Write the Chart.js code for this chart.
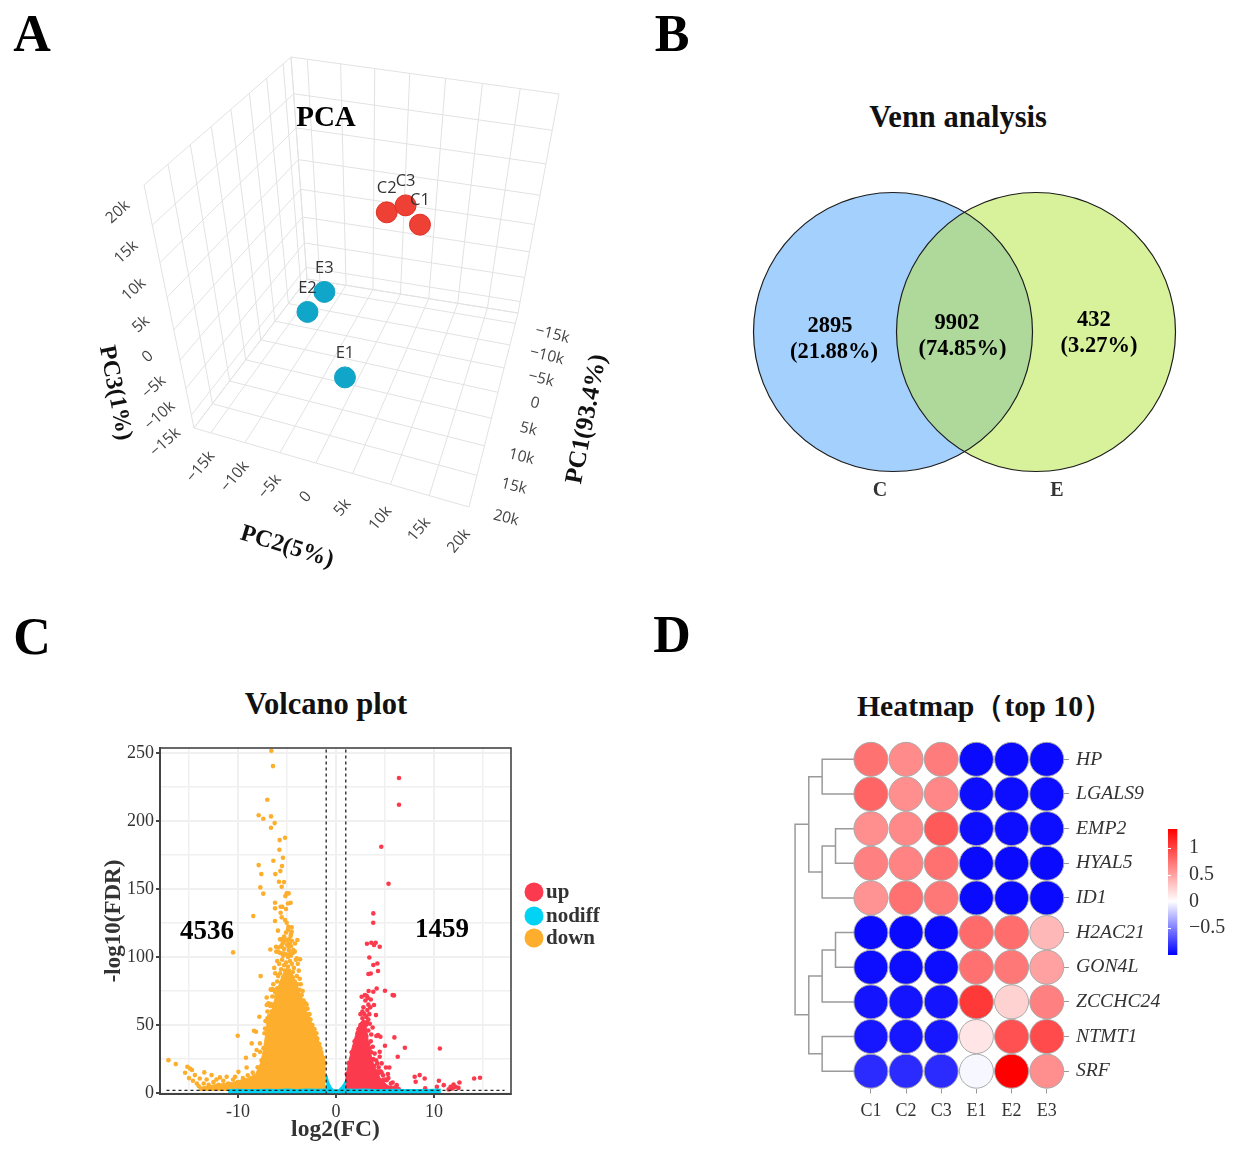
<!DOCTYPE html>
<html><head><meta charset="utf-8">
<script src="https://cdn.jsdelivr.net/npm/chart.js@4"></script>
<style>
html,body{margin:0;padding:0;background:#fff}
#page{position:relative;width:1237px;height:1152px;overflow:hidden;background:#fff;font-family:"Liberation Serif",serif;color:#000}
canvas{position:absolute;display:block}
.t{position:absolute;transform:translate(-50%,-50%);white-space:nowrap;font-weight:bold}
.letter{font-size:52px}
.title{font-size:30.5px;color:#111}
</style></head><body><div id="page">
<div class="t letter" style="left:32px;top:33px">A</div>
<div class="t letter" style="left:672px;top:33px">B</div>
<div class="t letter" style="left:32px;top:636px">C</div>
<div class="t letter" style="left:672px;top:634px">D</div>
<div class="t title" style="left:958px;top:117px">Venn analysis</div>
<div class="t title" style="left:326px;top:704px">Volcano plot</div>
<div class="t title" style="left:985px;top:706px;font-size:29.8px">Heatmap（top 10）</div>
<canvas id="pca" width="624" height="574" style="left:28px;top:28px"></canvas>
<canvas id="venn" width="500" height="340" style="left:735px;top:170px"></canvas>
<canvas id="volcano" width="520" height="420" style="left:100px;top:730px"></canvas>
<canvas id="heat" width="450" height="410" style="left:770px;top:720px"></canvas>
<canvas id="cbar" width="70" height="160" style="left:1167px;top:810px"></canvas>
</div>
<script>
// ---------- Panel A data (values in thousands) ----------
const pcaNames=['C1','C2','C3','E1','E2','E3'];
const pc1Values=[-14,-14,-14,14,14,14];
const pc2Values=[3.82,-1.48,1.47,3.15,-0.82,2.14];
const pc3Values=[-0.74,0.48,2.17,-6.82,2.62,6.27];
const pcaTicks=[-15,-10,-5,0,5,10,15,20];
// ---------- Panel B data ----------
const vennSets=['C','E'];
const vennCounts=['2895','9902','432'];
const vennShares=['(21.88%)','(74.85%)','(3.27%)'];
// ---------- Panel C data ----------
const xTickValues=[-15,-10,-5,0,5,10,15];
const yTickValues=[0,25,50,75,100,125,150,175,200,225,250];
const downCount='4536', upCount='1459';
const downEnvelope=[[-1.05,22],[-1.5,33],[-2,43],[-2.5,52],[-3,60],[-3.5,70],[-4,80],[-4.5,88],[-5,92],[-5.5,86],[-6,76],[-6.5,62],[-7,50],[-7.2,42],[-7.4,32],[-7.7,22],[-8.2,14],[-9,11],[-10.5,8],[-12.5,6],[-14,4]];
const upEnvelope=[[0.96,9],[1.27,22],[1.6,32],[1.94,41],[2.2,47],[2.5,52],[2.8,54],[3.1,48],[3.3,38],[3.5,30],[3.8,22],[4.2,15],[4.6,10],[5.2,6],[5.9,3]];
const nodiffEnvelope=[[-1.0,13],[-0.85,8.5],[-0.6,4.5],[-0.3,1.8],[0,0.5],[0.3,1.8],[0.6,4],[0.85,6.5],[1.0,8.5]];
const nodiffStrip=[[-11,1.3],[-10,1.5],[-9,1.3],[-8,1.4],[-7,1.5],[-6,1.3],[-5,1.6],[-4,1.3],[-3,1.6],[-2,1.5],[-1,1.7],[-0.6,1.2],[0.6,1.2],[1,1.6],[2,1.5],[3,1.6],[4,1.4],[5,1.3],[6,1.5],[7,1.3],[8,1.4],[9,1.3],[10,1.5],[10.7,1.6]];
const downPoints=[[-6.6,251.7],[-6.43,240.4],[-7.01,215.7],[-7.89,204.2],[-7.42,201.7],[-6.63,203.4],[-6.26,198.5],[-6.63,195.1],[-5.2,187.7],[-5.75,186],[-5.78,178.9],[-5.41,173],[-6.39,170.8],[-5.51,166.9],[-7.89,167.6],[-5.68,163.2],[-7.62,161],[-6.19,161],[-5.82,155.4],[-5.31,155.1],[-7.72,151.2],[-5.54,151.7],[-7.42,146.6],[-5.03,146.8],[-4.83,146.8],[-5.17,144.8],[-6.22,139.9],[-4.63,139.9],[-4.9,139.4],[-5.65,137],[-5.48,137],[-6.22,135.8],[-5.1,135.3],[-5.65,132.6],[-8.44,130.1],[-5.54,129.2],[-6.22,126.5],[-5.2,127.2],[-5.03,125.2],[-5.92,119.4],[-4.86,122.3],[-4.52,121.8],[-4.52,118.6],[-4.63,115.4],[-3.94,112.5],[-4.18,110],[-5.71,113],[-5.2,113],[-5.44,110],[-6.7,105.6],[-6.12,107.6],[-5.54,107.6],[-4.86,107.6],[-4.35,105.1],[-10.5,103.4],[-5.88,103.9],[-5.37,102.7],[-4.69,102.2],[-4.01,99],[-3.67,98.3],
[-5.3,115],[-5.1,118],[-4.8,113],[-4.5,112],[-5.6,113],[-4.9,120],[-4.6,117],[-5.4,111],[-5.0,112],[-4.7,110],
[-5.9,107],[-5.6,108],[-5.3,106],[-5.0,109],[-4.8,105],[-4.6,108],[-4.4,103],[-5.7,103],[-5.4,101],[-5.1,102],[-4.9,100],[-4.6,101],[-4.2,104],[-6.1,104],
[-6.0,97],[-5.8,95],[-5.5,98],[-5.3,94],[-5.1,96],[-4.9,93],[-4.7,97],[-4.5,95],[-4.3,92],[-4.1,98],[-3.9,95],[-5.6,91],[-5.2,90],[-4.8,90],[-4.4,89],[-3.8,90],[-6.3,92],
[-6.2,88],[-5.9,86],[-5.7,88],[-5.4,85],[-5.2,87],[-5.0,84],[-4.8,86],[-4.6,83],[-4.4,85],[-4.2,82],[-4.0,86],[-3.7,84],[-3.6,80],[-6.0,82],[-5.6,81],[-5.3,80],[-4.9,81],[-4.5,80],[-4.1,78],[-3.9,80],[-6.4,80],
[-6.6,76],[-6.4,76],[-6.2,74],[-6.0,77],[-5.8,75],[-5.5,78],[-5.2,76],[-4.6,77],[-4.2,75],[-3.9,74],[-3.7,76],[-3.5,72],[-3.4,75],[-6.5,71],[-6.1,71],[-3.8,70],[-3.6,69],[-3.3,68],[-3.1,66],[-4.0,72],
[-6.9,66],[-6.7,64],[-6.4,65],[-6.3,62],[-6.6,60],[-3.5,64],[-3.2,62],[-3.0,65],[-2.9,62],[-2.7,58],[-3.4,60],[-3.0,58],[-7.0,60],[-6.8,57],[-6.5,55],
[-7.0,55],[-7.2,53],[-6.9,50],[-7.1,47],[-7.3,44],[-6.95,52],[-2.8,55],[-2.6,54],[-2.4,50],[-2.2,47],[-2.5,48],[-2.0,44],[-1.9,40],[-1.7,36],[-1.5,30],[-1.3,26],[-1.1,22],[-2.3,42],[-1.6,33],
[-17.1,24.2],[-16.35,21.3],[-15.17,19.3],[-14.9,18.1],[-15.4,14.9],[-14.7,16.9],[-14.4,13.2],[-13.44,15.2],[-13.9,10.7],[-12.7,13.2],[-11.84,11.5],[-11.16,11.9],[-10.3,11.9],[-9.96,15.6],[-9.12,18.8],[-9.19,25.9],[-8.34,27.9],[-8.1,31.6],[-8.6,36.5],[-8.37,45.8],[-8.16,45.1],[-10.03,42.1],[-7.69,86],[-7.07,70.3],[-6.66,76.2],[-6.46,76.2],[-7.07,64.7],[-6.66,65.4],[-6.39,64.7],[-7.82,56.1],[-7.24,47.5],[-6.9,46.3],[-7.76,36.5],[-7.76,30.3],
[-15,11],[-14.6,9],[-14.2,7],[-14,5],[-13.5,7],[-13,6],[-12.5,8],[-12,6],[-11.5,9],[-11,7],[-10.5,10],[-10,8],[-9.5,11],[-9,13],[-8.5,15],[-8,19],[-7.6,24],[-7.4,33],[-7,40],[-13.2,10],[-12.2,10],[-11.2,5],[-10.6,4]];
const upPoints=[[6.43,231.6],[6.43,212],[4.62,181.1],[5.36,153.9],[3.81,132.1],[3.8,125.2],[3.16,109.8],[3.61,110.5],[4.05,110.5],[3.88,108.8],[4.46,107.6],[3.4,99.7],[3.81,94.1],[4.22,95.3],[4.29,89.7],[3.31,87.5],[3.55,87.9],[4.15,76.9],[3.81,74.5],[3.33,75],[5.0,75.2],[5.78,72],[5.92,71.8],[2.62,70.8],[3.13,71.5],[3.55,68.8],[3.88,64.7],[4.08,57.3],[3.74,48.2],[4.12,41.9],[4.29,42.6],[4.53,41.4],[5.96,40.9],[5.0,34.8],[7.03,33.3],[10.6,32.8],[4.46,30.3],[4.46,26.7],[6.3,26.7],[4.22,21.8],[4.66,21.8],[5.1,18.8],[5.44,18.8],[4.3,14.4],[4.66,15],[4.8,9.5],[5.17,9.5],[5.78,7.8],[6.2,5.8],[8.03,12],[8.54,13.2],[9.05,10.7],[8.13,8.3],[10.5,9],[14.1,10.7],[14.7,11.2],[12.6,7.8],[12.0,6.3],[11.7,4.6],[12.2,4.6],[11,5.8],[10.3,4.6],[9.1,3.4],[11.5,2.7],[11.9,3.4],[12.5,3.8],
[3.0,68],[3.3,65],[2.8,63],[3.2,61],[3.5,63],[2.9,58],[3.1,56],[2.7,55],[3.3,54],[2.85,52],[3.05,50],[2.5,50],[2.3,47],[2.2,44],[2.6,46],[3.3,46],[3.6,43],[3.1,42],[3.3,36],[3.6,30],[3.3,28],[3.8,25],[3.9,20],[4.2,16],[4.8,13],[5.0,10],[5.6,7],[6,4],[6.4,3],[5.3,14],[4.6,8],[1.9,38],[1.6,30],[1.3,22],[1.1,14],
[2.5,58],[2.7,60],[3.4,58],[3.15,52],[3.45,51],[3.55,38],[3.75,34],[3.45,33],[3.95,29],[4.1,24],[4.35,19],[3.6,23],[4.55,16],[5.35,11],[4.05,12],[5.6,4],[3.25,70],[2.95,72]];
// ---------- Panel D data ----------
const heatCols=['C1','C2','C3','E1','E2','E3'];
const heatRows=['HP','LGALS9','EMP2','HYAL5','ID1','H2AC21','GON4L','ZCCHC24','NTMT1','SRF'];
const heatValues=[
[0.75,0.62,0.70,-0.97,-0.97,-0.97],
[0.82,0.60,0.64,-0.96,-0.96,-0.96],
[0.60,0.63,0.88,-0.96,-0.96,-0.96],
[0.68,0.66,0.76,-0.97,-0.97,-0.97],
[0.58,0.76,0.72,-0.97,-0.97,-0.97],
[-0.97,-0.97,-0.97,0.79,0.78,0.38],
[-0.96,-0.96,-0.96,0.76,0.72,0.50],
[-0.93,-0.93,-0.93,1.06,0.24,0.68],
[-0.92,-0.92,-0.92,0.14,0.93,0.96],
[-0.84,-0.84,-0.84,-0.03,1.36,0.60]];
const colorTicks=[-0.5,0,0.5,1];
const colorRange=[-1.01,1.36];
const dendroHeights=[-1.386,-1.006,-1.386,-1.766,-1.006,-1.386,-1.386,-1.766,-2.156];
const dendroKids=[[0,1],[2,3],['n1',4],['n0','n2'],[5,6],['n4',7],[8,9],['n5','n6'],['n3','n7']];

// ---------- shared ----------
const SERIF='"Liberation Serif",serif';
const txt=(c,s,x,y,font,col,rot,al)=>{c.save();c.translate(x,y);if(rot)c.rotate(rot*Math.PI/180);c.font=font;c.fillStyle=col||'#000';c.textAlign=al||'center';c.textBaseline='middle';c.fillText(s,0,0);c.restore();};
const base={responsive:false,animation:false,events:[],plugins:{legend:{display:false},tooltip:{enabled:false},title:{display:false}}};

// ---------- A: PCA ----------
const O=[194,428],X=[469,507],Y=[307,279],Z=[144,185],XY=[518,313],YZ=[291,57],XZ=[414,240],XYZ=[559,94];
const warp=(v,k)=>v/(k-(k-1)*v);
const lo=-17.5,hi=20,span=hi-lo;
function proj(pc1,pc2,pc3){
  const s=warp((pc2-lo)/span,1.1),t=warp((hi-pc1)/span,0.79),u=warp((pc3-lo)/span,1.29);
  const out=[];
  for(let i=0;i<2;i++){
    const a=O[i]+(Y[i]-O[i])*t,b=X[i]+(XY[i]-X[i])*t,c=Z[i]+(YZ[i]-Z[i])*t,d=XZ[i]+(XYZ[i]-XZ[i])*t;
    const bot=a+(b-a)*s,top=c+(d-c)*s;
    out.push(bot+(top-bot)*u);
  }
  return {x:out[0],y:out[1]};
}
const gridLines=[];
const gridStops=[lo,...pcaTicks];
const gl=(p,q)=>gridLines.push({type:'line',data:[p,q],borderColor:'#e2e2e2',borderWidth:1,pointRadius:0,tension:0,order:5});
gridStops.forEach(v=>{
  gl(proj(hi,lo,v),proj(lo,lo,v));
  gl(proj(v,lo,lo),proj(v,lo,hi));
  gl(proj(lo,lo,v),proj(lo,hi,v));
  gl(proj(lo,v,lo),proj(lo,v,hi));
  gl(proj(hi,v,lo),proj(lo,v,lo));
  gl(proj(v,lo,lo),proj(v,hi,lo));
});
const pcaPts=pcaNames.map((n,i)=>proj(pc1Values[i],pc2Values[i],pc3Values[i]));
const fmtK=v=>v===0?'0':(v<0?'−':'')+Math.abs(v)+'k';
new Chart(document.getElementById('pca'),{type:'scatter',
 data:{datasets:[...gridLines,
  {data:pcaPts.slice(3),backgroundColor:'#0fa6c9',borderColor:'#14a0c2',borderWidth:1,pointRadius:10.5,order:1},
  {data:pcaPts.slice(0,3),backgroundColor:'#ee4035',borderColor:'#dd2f22',borderWidth:1,pointRadius:10.5,order:1}]},
 options:{...base,layout:{padding:12},scales:{x:{display:false,type:'linear',min:40,max:640},y:{display:false,type:'linear',reverse:true,min:40,max:590}}},
 plugins:[{id:'pcaText',afterDraw(ch){
  const c=ch.ctx,sx=ch.scales.x,sy=ch.scales.y;
  const px=p=>[sx.getPixelForValue(p.x),sy.getPixelForValue(p.y)];
  const f='15.5px "Open Sans",sans-serif';
  pcaTicks.forEach(v=>{
   let q=px(proj(hi,v,lo));txt(c,fmtK(v),q[0]-10,q[1]+34,f,'#444',-50);
   q=px(proj(hi,lo,v));txt(c,fmtK(v),q[0]-26,q[1]+27,f,'#444',-42);
   q=px(proj(v,hi,lo));txt(c,fmtK(v),q[0]+37,q[1]+11,f,'#444',14);
  });
  pcaNames.forEach((n,i)=>{const q=px(pcaPts[i]);txt(c,n,q[0],q[1]-24,'16.5px "Open Sans",sans-serif','#333');});
  const b='bold 24px '+SERIF;
  let q=px({x:287,y:547});txt(c,'PC2(5%)',q[0],q[1],b,'#111',17);
  q=px({x:587,y:419});txt(c,'PC1(93.4%)',q[0],q[1],'bold 25px '+SERIF,'#111',-79);
  q=px({x:115,y:393});txt(c,'PC3(1%)',q[0],q[1],b,'#111',79);
  q=px({x:326,y:119});txt(c,'PCA',q[0],q[1],'bold 29px '+SERIF,'#000');
 }}]});

// ---------- B: Venn ----------
const vennColors=['#a4d0fd','#d8f29b'],vennOverlap='#aed99b';
const vennR=139.5;
new Chart(document.getElementById('venn'),{type:'scatter',
 data:{datasets:vennSets.map((n,i)=>({data:[{x:i,y:0}],backgroundColor:vennColors[i],borderWidth:0,pointRadius:vennR,clip:false}))},
 options:{...base,layout:{padding:{left:140,right:140,top:140,bottom:156}},scales:{x:{display:false,type:'linear',min:-0.1259,max:1.4126},y:{display:false,type:'linear',min:-1,max:1}}},
 plugins:[{id:'vennOver',afterDraw(ch){
  const c=ch.ctx,R=vennR;
  const a=ch.getDatasetMeta(0).data[0],b=ch.getDatasetMeta(1).data[0];
  c.save();c.beginPath();c.arc(a.x,a.y,R,0,7);c.clip();c.beginPath();c.arc(b.x,b.y,R,0,7);c.fillStyle=vennOverlap;c.fill();c.restore();
  c.strokeStyle='#1c1c1c';c.lineWidth=1.2;
  [a,b].forEach(p=>{c.beginPath();c.arc(p.x,p.y,R,0,7);c.stroke();});
  const f='bold 22.5px '+SERIF;
  const nx=[a.x-63,a.x+64,b.x+58],sxs=[a.x-59,a.x+69.5,b.x+63],cy=[a.y-6,a.y-9,a.y-12];
  vennCounts.forEach((s,i)=>{txt(c,s,nx[i],cy[i],f,'#000');txt(c,vennShares[i],sxs[i],cy[i]+26,f,'#000');});
  const g='bold 20px '+SERIF;
  txt(c,vennSets[0],a.x-13,a.y+159,g,'#333');txt(c,vennSets[1],b.x+21,a.y+159,g,'#333');
 }}]});

// ---------- C: Volcano ----------
const cUp='#fc3a4e',cDown='#fdae2d',cNo='#00d3f3';
const xy=a=>a.map(p=>({x:p[0],y:p[1]}));
const dash=(p,q)=>({type:'line',data:p.concat(q),borderColor:'#222',borderWidth:1.3,borderDash:[3,3],pointRadius:0,order:0});
const mass=(arr,col,o)=>({type:'line',data:xy(arr),borderColor:col,backgroundColor:col,borderWidth:1,pointRadius:0,tension:0,fill:{value:1.5},order:o});
new Chart(document.getElementById('volcano'),{type:'scatter',
 data:{datasets:[
  dash([{x:-1,y:-1}],[{x:-1,y:253.7}]),dash([{x:1,y:-1}],[{x:1,y:253.7}]),dash([{x:-17.3,y:2}],[{x:17.2,y:2}]),
  {data:xy(downPoints),backgroundColor:cDown,borderWidth:0,pointRadius:2.3,order:6},
  mass(downEnvelope,cDown,7),
  {data:xy(upPoints),backgroundColor:cUp,borderWidth:0,pointRadius:2.3,order:4},
  mass(upEnvelope,cUp,5),
  {type:'line',data:xy(nodiffStrip),borderColor:cNo,borderWidth:4.5,pointRadius:0,tension:0,order:2},
  {type:'line',data:xy(nodiffEnvelope),borderColor:cNo,backgroundColor:cNo,borderWidth:2.5,pointRadius:0,tension:0,fill:{value:0},order:2}
 ]},
 options:{...base,layout:{padding:{left:0,right:109,top:18,bottom:0}},
  scales:{
   x:{type:'linear',min:-17.96,max:17.86,afterBuildTicks:s=>{s.ticks=xTickValues.map(v=>({value:v}));},afterFit:s=>{s.height=56;},
      border:{display:true,color:'#444',width:2},
      grid:{color:'#f0f0f0',lineWidth:t=>t.tick&&t.tick.value%10===0?2:1.5,tickColor:t=>t.tick&&t.tick.value%10===0?'#444':'rgba(0,0,0,0)',tickLength:4},
      ticks:{autoSkip:false,maxRotation:0,padding:3,color:'#333',font:{family:SERIF,size:18},callback:v=>v%10===0?String(v):''},
      title:{display:true,text:'log2(FC)',color:'#333',font:{family:SERIF,size:23.5,weight:'bold'},padding:{top:0,bottom:6}}},
   y:{type:'linear',min:-0.7,max:253.7,afterBuildTicks:s=>{s.ticks=yTickValues.map(v=>({value:v}));},afterFit:s=>{s.width=60;},
      border:{display:true,color:'#444',width:2},
      grid:{color:'#f0f0f0',lineWidth:t=>t.tick&&t.tick.value%50===0?2:1.5,tickColor:t=>t.tick&&t.tick.value%50===0?'#444':'rgba(0,0,0,0)',tickLength:4},
      ticks:{autoSkip:false,padding:2,color:'#333',font:{family:SERIF,size:18},callback:v=>v%50===0?String(v):''},
      title:{display:true,text:'-log10(FDR)',color:'#333',font:{family:SERIF,size:23,weight:'bold'},padding:{top:0,bottom:0}}}
  }},
 plugins:[{id:'volcText',afterDraw(ch){
  const c=ch.ctx,a=ch.chartArea;
  c.strokeStyle='#444';c.lineWidth=1.6;c.strokeRect(a.left,a.top,a.right-a.left,a.bottom-a.top);
  const f='bold 27px '+SERIF;
  txt(c,downCount,a.left+47,a.top+184,f,'#000');txt(c,upCount,a.left+282,a.top+182,f,'#000');
  const lx=a.right+23,names=['up','nodiff','down'],cols=[cUp,cNo,cDown],ys=[a.top+144,a.top+168,a.top+190];
  names.forEach((n,i)=>{c.beginPath();c.arc(lx,ys[i],9.5,0,7);c.fillStyle=cols[i];c.fill();txt(c,n,lx+12,ys[i]+1,'bold 21px '+SERIF,'#333',0,'left');});
 }}]});

// ---------- D: Heatmap ----------
const heatColor=v=>{const top=colorRange[1],bot=-colorRange[0];
  if(v>=0){const f=Math.min(1,v/top);const g=Math.round(255*(1-f));return `rgb(255,${g},${g})`;}
  const f=Math.min(1,-v/bot);const g=Math.round(255*(1-f));return `rgb(${g},${g},255)`;};
const heatPts=[],heatBg=[];
heatValues.forEach((row,r)=>row.forEach((v,c)=>{heatPts.push({x:c,y:r});heatBg.push(heatColor(v));}));
const leafX=-0.484,node={};
const kidOf=k=>typeof k==='string'?node[k]:{h:leafX,y:k};
const dendroSets=dendroKids.map((k,i)=>{
  const a=kidOf(k[0]),b=kidOf(k[1]),h=dendroHeights[i];
  node['n'+i]={h,y:(a.y+b.y)/2};
  return {type:'line',data:[{x:a.h,y:a.y},{x:h,y:a.y},{x:h,y:b.y},{x:b.h,y:b.y}],borderColor:'#9a9a9a',borderWidth:1.5,pointRadius:0,tension:0,order:3,clip:false};
});
new Chart(document.getElementById('heat'),{type:'scatter',
 data:{datasets:[...dendroSets,{data:heatPts,backgroundColor:heatBg,borderColor:'#a9a9a9',borderWidth:1,pointRadius:17,order:1,clip:false}]},
 options:{...base,layout:{padding:{left:20,right:0,top:22,bottom:0}},
  scales:{
   x:{type:'linear',min:-2.3,max:5.49,afterBuildTicks:s=>{s.ticks=heatCols.map((n,i)=>({value:i}));},afterFit:s=>{s.height=41.5;},
      border:{display:false},grid:{drawOnChartArea:false,tickColor:'#999',tickLength:5},
      ticks:{autoSkip:false,maxRotation:0,padding:7,color:'#333',font:{family:SERIF,size:18},callback:v=>heatCols[v]}},
   y:{type:'linear',position:'right',reverse:true,min:-0.5,max:9.5,afterBuildTicks:s=>{s.ticks=heatRows.map((n,i)=>({value:i}));},afterFit:s=>{s.width=156;},
      border:{display:false},grid:{drawOnChartArea:false,tickColor:'#999',tickLength:5},
      ticks:{autoSkip:false,padding:7,crossAlign:'near',color:'#333',font:{family:SERIF,size:19.7,style:'italic'},callback:v=>heatRows[v]}}
  }}});

// colour bar
new Chart(document.getElementById('cbar'),{type:'bar',
 data:{labels:['value'],datasets:[{data:[colorRange],borderWidth:0,barPercentage:1,categoryPercentage:1,
   backgroundColor:ctx=>{const a=ctx.chart.chartArea;if(!a)return '#fff';const g=ctx.chart.ctx.createLinearGradient(0,a.bottom,0,a.top);
     const z=-colorRange[0]/(colorRange[1]-colorRange[0]);g.addColorStop(0,'#0000ff');g.addColorStop(z,'#ffffff');g.addColorStop(1,'#ff0000');return g;}}]},
 options:{...base,layout:{padding:{left:1,right:0,top:19,bottom:6}},
  scales:{x:{display:false,offset:false,grid:{display:false}},
   y:{type:'linear',position:'right',min:colorRange[0],max:colorRange[1],afterBuildTicks:s=>{s.ticks=colorTicks.map(v=>({value:v}));},afterFit:s=>{s.width=51;},
     border:{display:false},grid:{display:false,drawTicks:false},
     ticks:{autoSkip:false,padding:3,crossAlign:'near',color:'#333',font:{family:SERIF,size:20},callback:v=>v===0?'0':(v<0?'−':'')+Math.abs(v)}}}},
 plugins:[{id:'cbarTicks',afterDatasetsDraw(ch){const c=ch.ctx,a=ch.chartArea;c.strokeStyle='#fff';c.lineWidth=1;
   colorTicks.forEach(v=>{const y=Math.round(ch.scales.y.getPixelForValue(v))+.5;c.beginPath();c.moveTo(a.left,y);c.lineTo(a.left+3,y);c.moveTo(a.right-3,y);c.lineTo(a.right,y);c.stroke();});}}]});
</script></body></html>
